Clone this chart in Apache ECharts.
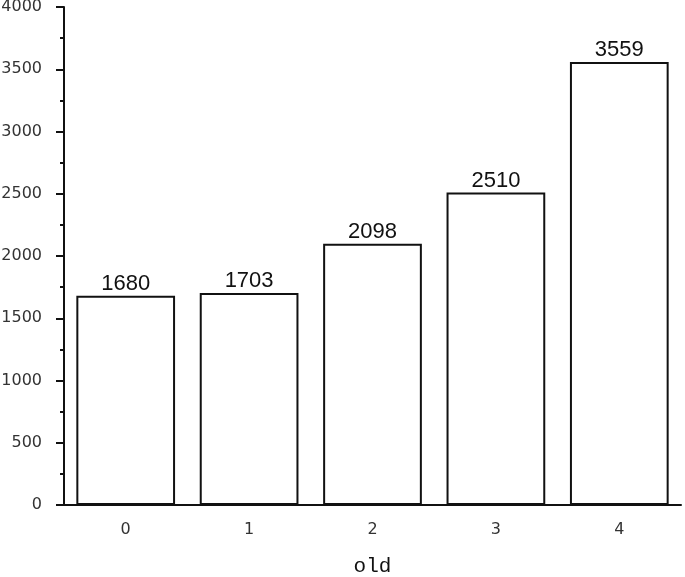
<!DOCTYPE html>
<html>
<head>
<meta charset="utf-8">
<script src="https://cdn.jsdelivr.net/npm/echarts@6/dist/echarts.min.js"></script>
<style>
  html, body { margin: 0; padding: 0; background: #fff; }
  #chart { width: 685px; height: 577px; }
</style>
</head>
<body>
<div id="chart"></div>
<script>
const categories = ['0', '1', '2', '3', '4']
const counts = [1680, 1703, 2098, 2510, 3559]

const chart = echarts.init(document.getElementById('chart'))
const ink = '#111'

chart.setOption({
  animation: false,
  grid: { left: 64, right: 4, top: 7, bottom: 72, outerBoundsMode: 'none' },
  xAxis: [
    {
      type: 'category',
      data: categories,
      name: 'old',
      nameLocation: 'middle',
      nameGap: 51,
      nameTextStyle: { fontFamily: 'Liberation Mono', fontSize: 21, color: ink },
      axisLine: { lineStyle: { color: ink, width: 2 } },
      axisTick: { alignWithLabel: true, length: 7, lineStyle: { color: ink, width: 2 } },
      axisLabel: { margin: 17, fontFamily: 'DejaVu Sans', fontSize: 16, color: '#333' }
    },
    {
      // small ticks between the categories
      type: 'category',
      data: categories,
      position: 'bottom',
      axisLine: { show: false },
      axisTick: { length: 3, lineStyle: { color: ink, width: 2 } },
      axisLabel: { show: false }
    }
  ],
  yAxis: {
    type: 'value',
    min: 0,
    max: 4000,
    interval: 500,
    splitLine: { show: false },
    axisLine: { show: true, lineStyle: { color: ink, width: 2 } },
    axisTick: { show: true, length: 8, lineStyle: { color: ink, width: 2 } },
    minorTick: { show: true, splitNumber: 2, length: 4, lineStyle: { color: ink, width: 2 } },
    axisLabel: {
      margin: 22,
      fontFamily: 'DejaVu Sans',
      fontSize: 16,
      color: '#333',
      formatter: v => String(v)
    }
  },
  series: [
    {
      type: 'bar',
      data: counts,
      barWidth: '80%',
      itemStyle: { color: '#fff', borderColor: ink, borderWidth: 2 },
      label: {
        show: true,
        position: 'top',
        distance: 1,
        fontFamily: 'Liberation Sans',
        fontSize: 22,
        color: ink
      }
    }
  ]
})
</script>
</body>
</html>
